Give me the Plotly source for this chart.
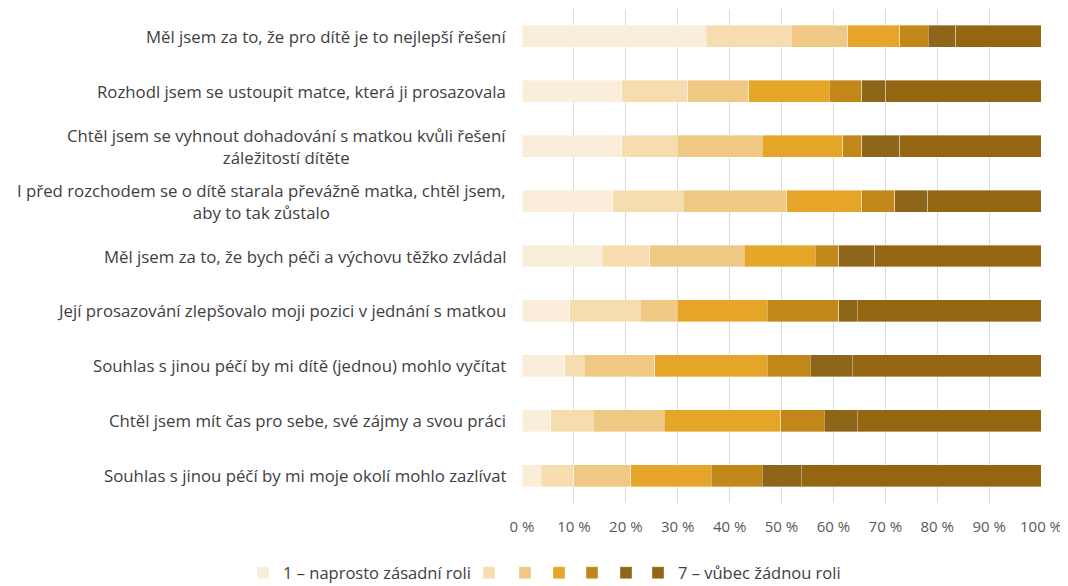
import plotly.graph_objects as go

categories = [
    "Měl jsem za to, že pro dítě je to nejlepší řešení",
    "Rozhodl jsem se ustoupit matce, která ji prosazovala",
    "Chtěl jsem se vyhnout dohadování s matkou kvůli řešení<br>záležitostí dítěte",
    "I před rozchodem se o dítě starala převážně matka, chtěl jsem,<br>aby to tak zůstalo",
    "Měl jsem za to, že bych péči a výchovu těžko zvládal",
    "Její prosazování zlepšovalo moji pozici v jednání s matkou",
    "Souhlas s jinou péčí by mi dítě (jednou) mohlo vyčítat",
    "Chtěl jsem mít čas pro sebe, své zájmy a svou práci",
    "Souhlas s jinou péčí by mi moje okolí mohlo zazlívat",
]

series_names = ["1 – naprosto zásadní roli", "", "", "", "", "", "7 – vůbec žádnou roli"]

level1 = [35.5, 19.2, 19.2, 17.5, 15.5, 9.2, 8.2, 5.5, 3.7]
level2 = [16.4, 12.7, 10.7, 13.6, 9.1, 13.6, 3.8, 8.2, 6.3]
level3 = [10.9, 11.8, 16.4, 19.9, 18.2, 7.1, 13.6, 13.7, 11.0]
level4 = [10.0, 15.5, 15.5, 14.5, 13.7, 17.4, 21.7, 22.5, 15.5]
level5 = [5.5, 6.3, 3.7, 6.3, 4.5, 13.7, 8.2, 8.3, 9.8]
level6 = [5.3, 4.6, 7.3, 6.4, 7.0, 3.6, 8.1, 6.4, 7.5]
level7 = [16.4, 29.9, 27.2, 21.8, 32.0, 35.4, 36.4, 35.4, 46.2]

tick_values = [0, 10, 20, 30, 40, 50, 60, 70, 80, 90, 100]
tick_labels = ["0 %", "10 %", "20 %", "30 %", "40 %", "50 %", "60 %", "70 %", "80 %", "90 %", "100 %"]

colors = ["#FAEEDB", "#F5DDAF", "#EFC983", "#E5A528", "#C18718", "#8D661A", "#946612"]

FONT = "'Open Sans', 'Noto Sans', sans-serif"

# figure is drawn inside the page body (8 px default margin), so size is reduced accordingly
W, H = 1060, 578
legend_left_px = [235, 461, 497, 531, 564, 598, 630]

fig = go.Figure()
all_levels = [level1, level2, level3, level4, level5, level6, level7]
legend_ids = ["legend"] + [f"legend{i}" for i in range(2, 8)]
for i, (vals, name) in enumerate(zip(all_levels, series_names)):
    fig.add_trace(go.Bar(
        y=categories, x=vals, orientation="h", name=name,
        marker=dict(color=colors[i], line=dict(color="rgba(255,255,255,0.45)", width=0.8)),
        legend=legend_ids[i],
    ))

for cat in categories:
    fig.add_annotation(
        xref="paper", yref="y", x=0, y=cat, xanchor="right", yanchor="middle",
        xshift=-14, text=cat, showarrow=False, align="center",
        font=dict(family=FONT, size=16.8, color="#404040"),
    )

legend_layouts = {}
for i, lid in enumerate(legend_ids):
    legend_layouts[lid] = dict(
        orientation="h",
        xref="container", yref="container",
        x=legend_left_px[i] / W, xanchor="left",
        y=1 - 565 / H, yanchor="middle",
        font=dict(family=FONT, size=16.5, color="#404040"),
        bgcolor="rgba(0,0,0,0)",
    )

fig.update_layout(
    barmode="stack",
    bargap=0.6,
    width=W, height=H,
    margin=dict(l=514, r=27, t=1, b=83, autoexpand=False),
    paper_bgcolor="white", plot_bgcolor="white",
    font=dict(family=FONT, color="#595959"),
    showlegend=True,
    xaxis=dict(
        range=[0, 100], tickvals=tick_values, ticktext=tick_labels,
        showgrid=True, gridcolor="#D9D9D9", gridwidth=1,
        zeroline=False, showline=False,
        ticks="outside", ticklen=10, tickcolor="rgba(0,0,0,0)",
        tickfont=dict(family=FONT, size=15, color="#595959"),
        fixedrange=True,
    ),
    yaxis=dict(
        categoryorder="array", categoryarray=categories, autorange="reversed",
        showticklabels=False, showgrid=False, zeroline=False, showline=False,
        fixedrange=True,
    ),
    **legend_layouts,
)

fig.write_html("out.html")
